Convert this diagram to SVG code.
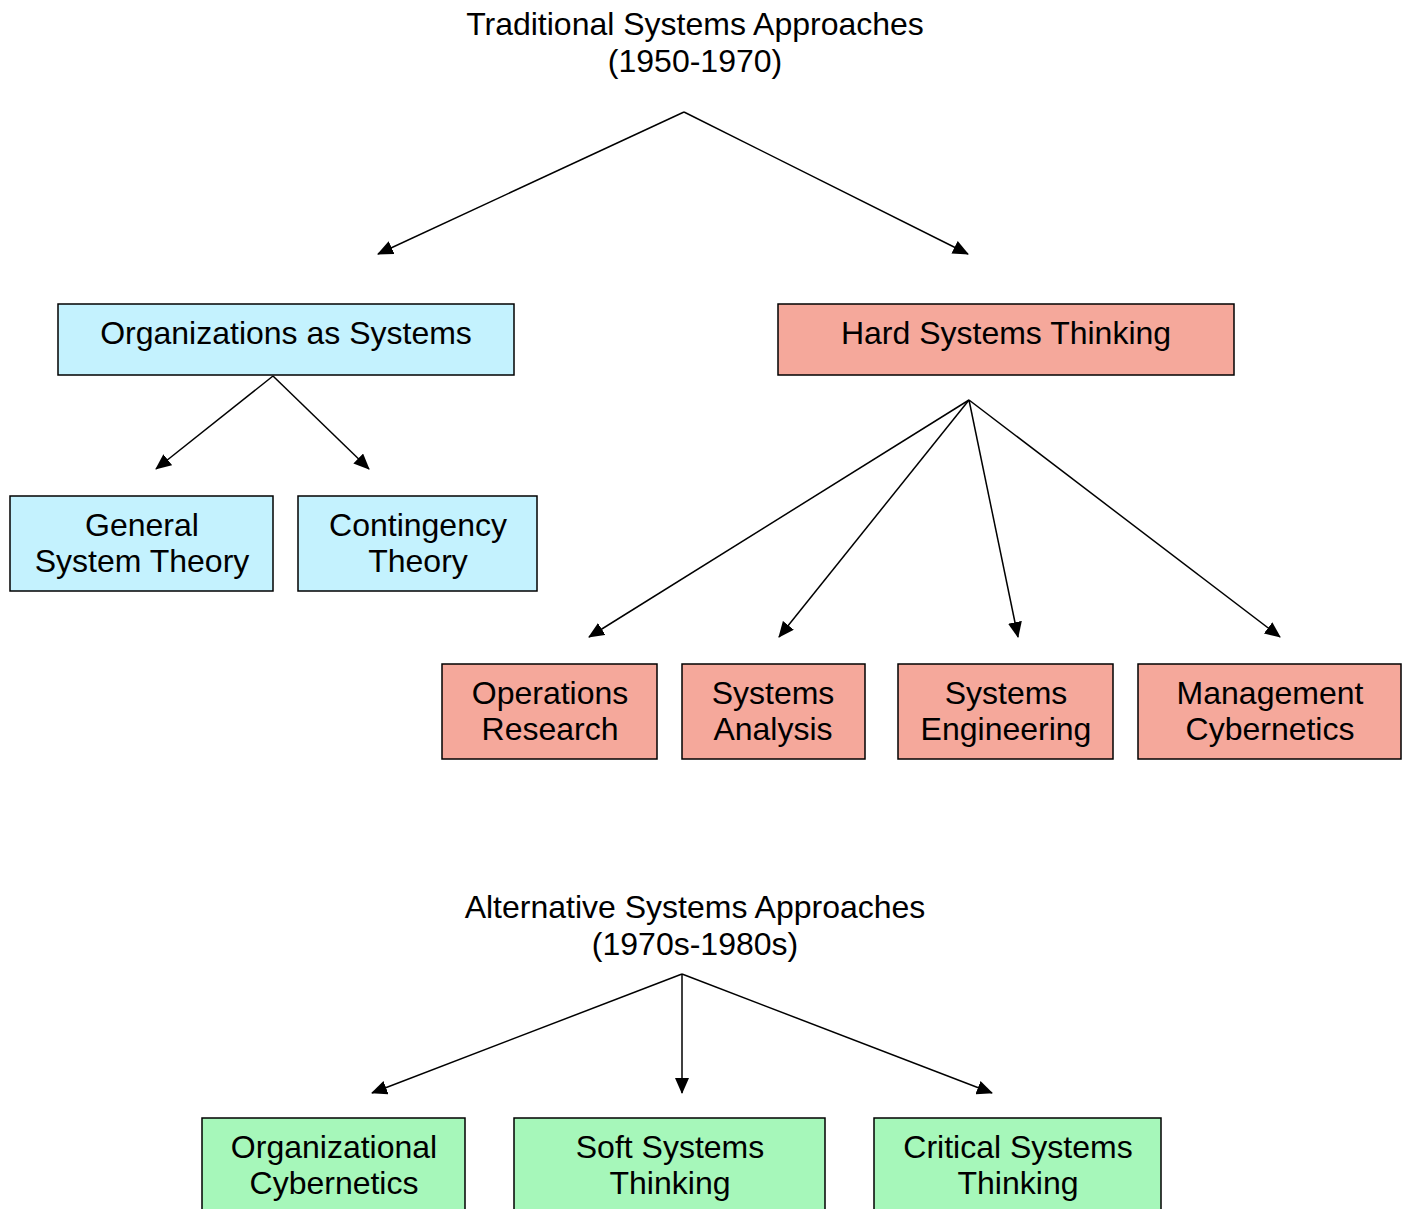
<svg xmlns="http://www.w3.org/2000/svg" width="1407" height="1209" viewBox="0 0 1407 1209">
<style>
text{font-family:"Liberation Sans",Arial,sans-serif;font-size:32px;fill:#000;text-anchor:middle}
.box{stroke:#000;stroke-width:1.5}
.blue{fill:#C4F2FE}
.red{fill:#F5A89B}
.green{fill:#A6F7BA}
.conn line{stroke:#000;stroke-width:1.5;marker-end:url(#arr)}
</style>
<defs>
<marker id="arr" markerUnits="userSpaceOnUse" markerWidth="16" markerHeight="14" refX="15" refY="7" orient="auto" viewBox="0 0 16 14">
<path d="M0,0 L16,7 L0,14 z" fill="#000"/>
</marker>
</defs>
<rect width="1407" height="1209" fill="#fff"/>
<g id="title-traditional">
<text x="695" y="35">Traditional Systems Approaches</text>
<text x="695" y="72">(1950-1970)</text>
</g>
<g id="title-alternative">
<text x="695" y="918">Alternative Systems Approaches</text>
<text x="695" y="955">(1970s-1980s)</text>
</g>
<g class="conn">
<line x1="684" y1="112" x2="378" y2="254"/>
<line x1="684" y1="112" x2="968" y2="254"/>
<line x1="273" y1="376" x2="156" y2="469"/>
<line x1="273" y1="376" x2="369" y2="469"/>
<line x1="969" y1="400" x2="589" y2="637"/>
<line x1="969" y1="400" x2="779" y2="637"/>
<line x1="969" y1="400" x2="1018" y2="637"/>
<line x1="969" y1="400" x2="1280" y2="637"/>
<line x1="682" y1="974" x2="372" y2="1093"/>
<line x1="682" y1="974" x2="682" y2="1093"/>
<line x1="682" y1="974" x2="992" y2="1093"/>
</g>
<g id="organizations">
<rect class="box blue" x="58" y="304" width="456" height="71"/>
<text x="286" y="344">Organizations as Systems</text>
</g>
<g id="hard">
<rect class="box red" x="778" y="304" width="456" height="71"/>
<text x="1006" y="344">Hard Systems Thinking</text>
</g>
<g id="gst">
<rect class="box blue" x="10" y="496" width="263" height="95"/>
<text x="142" y="536">General</text>
<text x="142" y="572">System Theory</text>
</g>
<g id="contingency">
<rect class="box blue" x="298" y="496" width="239" height="95"/>
<text x="418" y="536">Contingency</text>
<text x="418" y="572">Theory</text>
</g>
<g id="or">
<rect class="box red" x="442" y="664" width="215" height="95"/>
<text x="550" y="704">Operations</text>
<text x="550" y="740">Research</text>
</g>
<g id="sa">
<rect class="box red" x="682" y="664" width="183" height="95"/>
<text x="773" y="704">Systems</text>
<text x="773" y="740">Analysis</text>
</g>
<g id="se">
<rect class="box red" x="898" y="664" width="215" height="95"/>
<text x="1006" y="704">Systems</text>
<text x="1006" y="740">Engineering</text>
</g>
<g id="mc">
<rect class="box red" x="1138" y="664" width="263" height="95"/>
<text x="1270" y="704">Management</text>
<text x="1270" y="740">Cybernetics</text>
</g>
<g id="oc">
<rect class="box green" x="202" y="1118" width="263" height="100"/>
<text x="334" y="1158">Organizational</text>
<text x="334" y="1194">Cybernetics</text>
</g>
<g id="sst">
<rect class="box green" x="514" y="1118" width="311" height="100"/>
<text x="670" y="1158">Soft Systems</text>
<text x="670" y="1194">Thinking</text>
</g>
<g id="cst">
<rect class="box green" x="874" y="1118" width="287" height="100"/>
<text x="1018" y="1158">Critical Systems</text>
<text x="1018" y="1194">Thinking</text>
</g>
</svg>
